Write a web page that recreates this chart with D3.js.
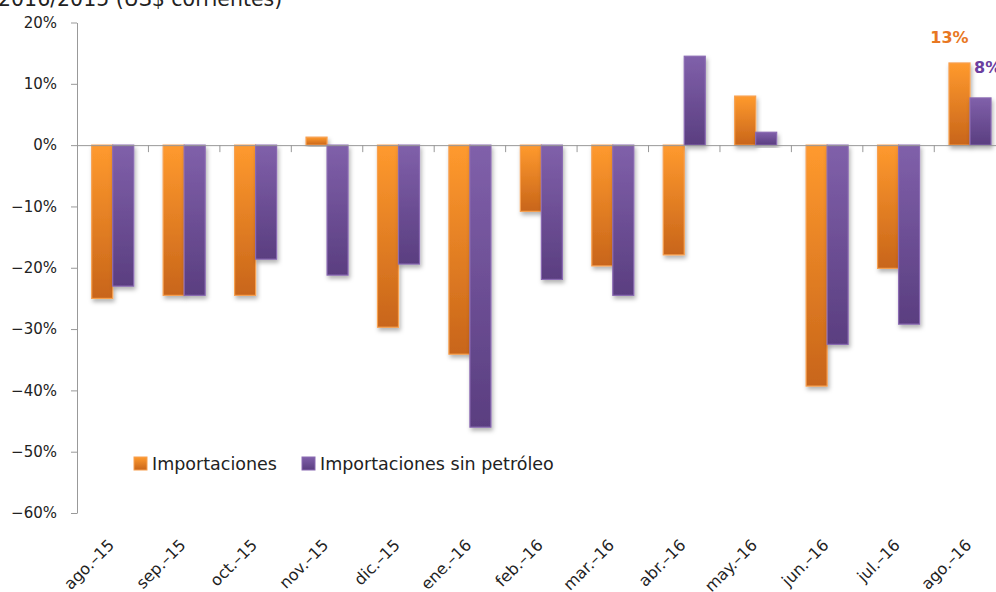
<!DOCTYPE html>
<html>
<head>
<meta charset="utf-8">
<script src="https://cdn.jsdelivr.net/npm/d3@7/dist/d3.min.js"></script>
<style>
  html, body { margin: 0; padding: 0; background: #fff; }
  svg { display: block; }
  text { font-family: "DejaVu Sans", sans-serif; }
</style>
</head>
<body>
<svg id="chart" width="996" height="592"></svg>
<script>
const categories = ["ago.-15","sep.-15","oct.-15","nov.-15","dic.-15","ene.-16","feb.-16","mar.-16","abr.-16","may.-16","jun.-16","jul.-16","ago.-16"];
const importaciones = [-25.0,-24.5,-24.5,1.3,-29.7,-34.1,-10.8,-19.7,-17.9,8.0,-39.3,-20.1,13.4];
const sinPetroleo = [-23.0,-24.5,-18.6,-21.2,-19.4,-46.0,-21.9,-24.5,14.5,2.1,-32.5,-29.2,7.7];
const seriesNames = ["Importaciones","Importaciones sin petróleo"];
const yTicks = [20,10,0,-10,-20,-30,-40,-50,-60];
const titleText = "2016/2015 (US$ corrientes)";
const endLabels = ["13%","8%"];

const svg = d3.select("#chart");
const mLeft = 77, mTop = 22.5, mBottom = 513, groupW = 71.44;

const y = d3.scaleLinear().domain([-60, 20]).range([mBottom, mTop]);
const x = d3.scaleBand().domain(categories).range([mLeft, mLeft + groupW * categories.length]).padding(0);
const xs = d3.scaleBand().domain(seriesNames).range([0, x.bandwidth()]).paddingInner(0).paddingOuter(0.70);

const defs = svg.append("defs");
const colors = [
  {id:"gOr", top:"#FF9A2E", bot:"#C8651A", stroke:"#F7A050"},
  {id:"gPu", top:"#8060AA", bot:"#5A3E80", stroke:"#8A6AB2"}
];
colors.forEach(c => {
  const g = defs.append("linearGradient").attr("id", c.id).attr("x1",0).attr("y1",0).attr("x2",0).attr("y2",1);
  g.append("stop").attr("offset","0%").attr("stop-color", c.top);
  g.append("stop").attr("offset","100%").attr("stop-color", c.bot);
});
const f = defs.append("filter").attr("id","shadow").attr("x","-30%").attr("y","-10%").attr("width","160%").attr("height","130%");
f.append("feDropShadow").attr("dx",1.5).attr("dy",3).attr("stdDeviation",2).attr("flood-color","#000").attr("flood-opacity",0.3);

// title (partially cut off, as in the reference)
svg.append("text").attr("x", -2).attr("y", 6).attr("font-size", 20.5).attr("fill", "#222").text(titleText);

// y axis
const yAxis = d3.axisLeft(y).tickValues(yTicks).tickFormat(d => (d < 0 ? "\u2212" + Math.abs(d) : d) + "%").tickSize(6).tickSizeOuter(0).tickPadding(14);
const ya = svg.append("g").attr("transform", `translate(${mLeft},0)`).call(yAxis);
ya.select(".domain").attr("stroke", "#999");
ya.selectAll(".tick line").attr("stroke", "#999");
ya.selectAll(".tick text").attr("font-size", 15).attr("fill", "#222").attr("font-family", "DejaVu Sans, sans-serif");

// bars
const data = categories.map((c, i) => ({cat: c, vals: [importaciones[i], sinPetroleo[i]]}));
const groups = svg.append("g").selectAll("g").data(data).join("g").attr("transform", d => `translate(${x(d.cat)},0)`);
groups.selectAll("rect").data(d => d.vals.map((v, k) => ({v, k}))).join("rect")
  .attr("x", d => xs(seriesNames[d.k]))
  .attr("width", xs.bandwidth())
  .attr("y", d => y(Math.max(0, d.v)))
  .attr("height", d => Math.abs(y(d.v) - y(0)))
  .attr("fill", d => `url(#${colors[d.k].id})`)
  .attr("stroke", d => colors[d.k].stroke)
  .attr("stroke-width", 1.2)
  .attr("filter", "url(#shadow)");

// x axis at zero
const xAxis = d3.axisBottom(x).tickSize(0).tickFormat("");
const xa = svg.append("g").attr("transform", `translate(0,${y(0)})`).call(xAxis);
xa.select(".domain").attr("stroke", "#999");
xa.selectAll(".tick").remove();
const bounds = categories.slice(1).map(c => x(c));
xa.selectAll("line.bt").data(bounds).join("line").attr("class","bt")
  .attr("x1", d => d).attr("x2", d => d).attr("y1", 0).attr("y2", 7).attr("stroke", "#999");

// x labels
svg.append("g").selectAll("text").data(categories).join("text")
  .attr("transform", d => `translate(${x(d) + x.bandwidth()/2 + 2.5},${mBottom + 33}) rotate(-45)`)
  .attr("text-anchor", "end")
  .attr("font-size", 16)
  .attr("fill", "#222")
  .text(d => d.replace("-", "\u2013"));

// end labels
const last = categories[categories.length - 1];
svg.append("text").attr("x", x(last) + xs(seriesNames[0]) + xs.bandwidth()/2 - 10).attr("y", 43)
  .attr("text-anchor", "middle").attr("font-size", 16).attr("font-weight", "bold").attr("fill", "#E87722").text(endLabels[0]);
svg.append("text").attr("x", x(last) + xs(seriesNames[1]) + 4).attr("y", 73)
  .attr("font-size", 16).attr("font-weight", "bold").attr("fill", "#6B3FA0").text(endLabels[1]);

// legend
const legend = svg.append("g").attr("transform", "translate(134,457)");
const lx = [0, 168];
seriesNames.forEach((s, k) => {
  const g = legend.append("g").attr("transform", `translate(${lx[k]},0)`);
  g.append("rect").attr("width", 13).attr("height", 13).attr("fill", `url(#${colors[k].id})`).attr("stroke", colors[k].stroke);
  g.append("text").attr("x", 18).attr("y", 13).attr("font-size", 17.5).attr("fill", "#222").text(s);
});
</script>
</body>
</html>
